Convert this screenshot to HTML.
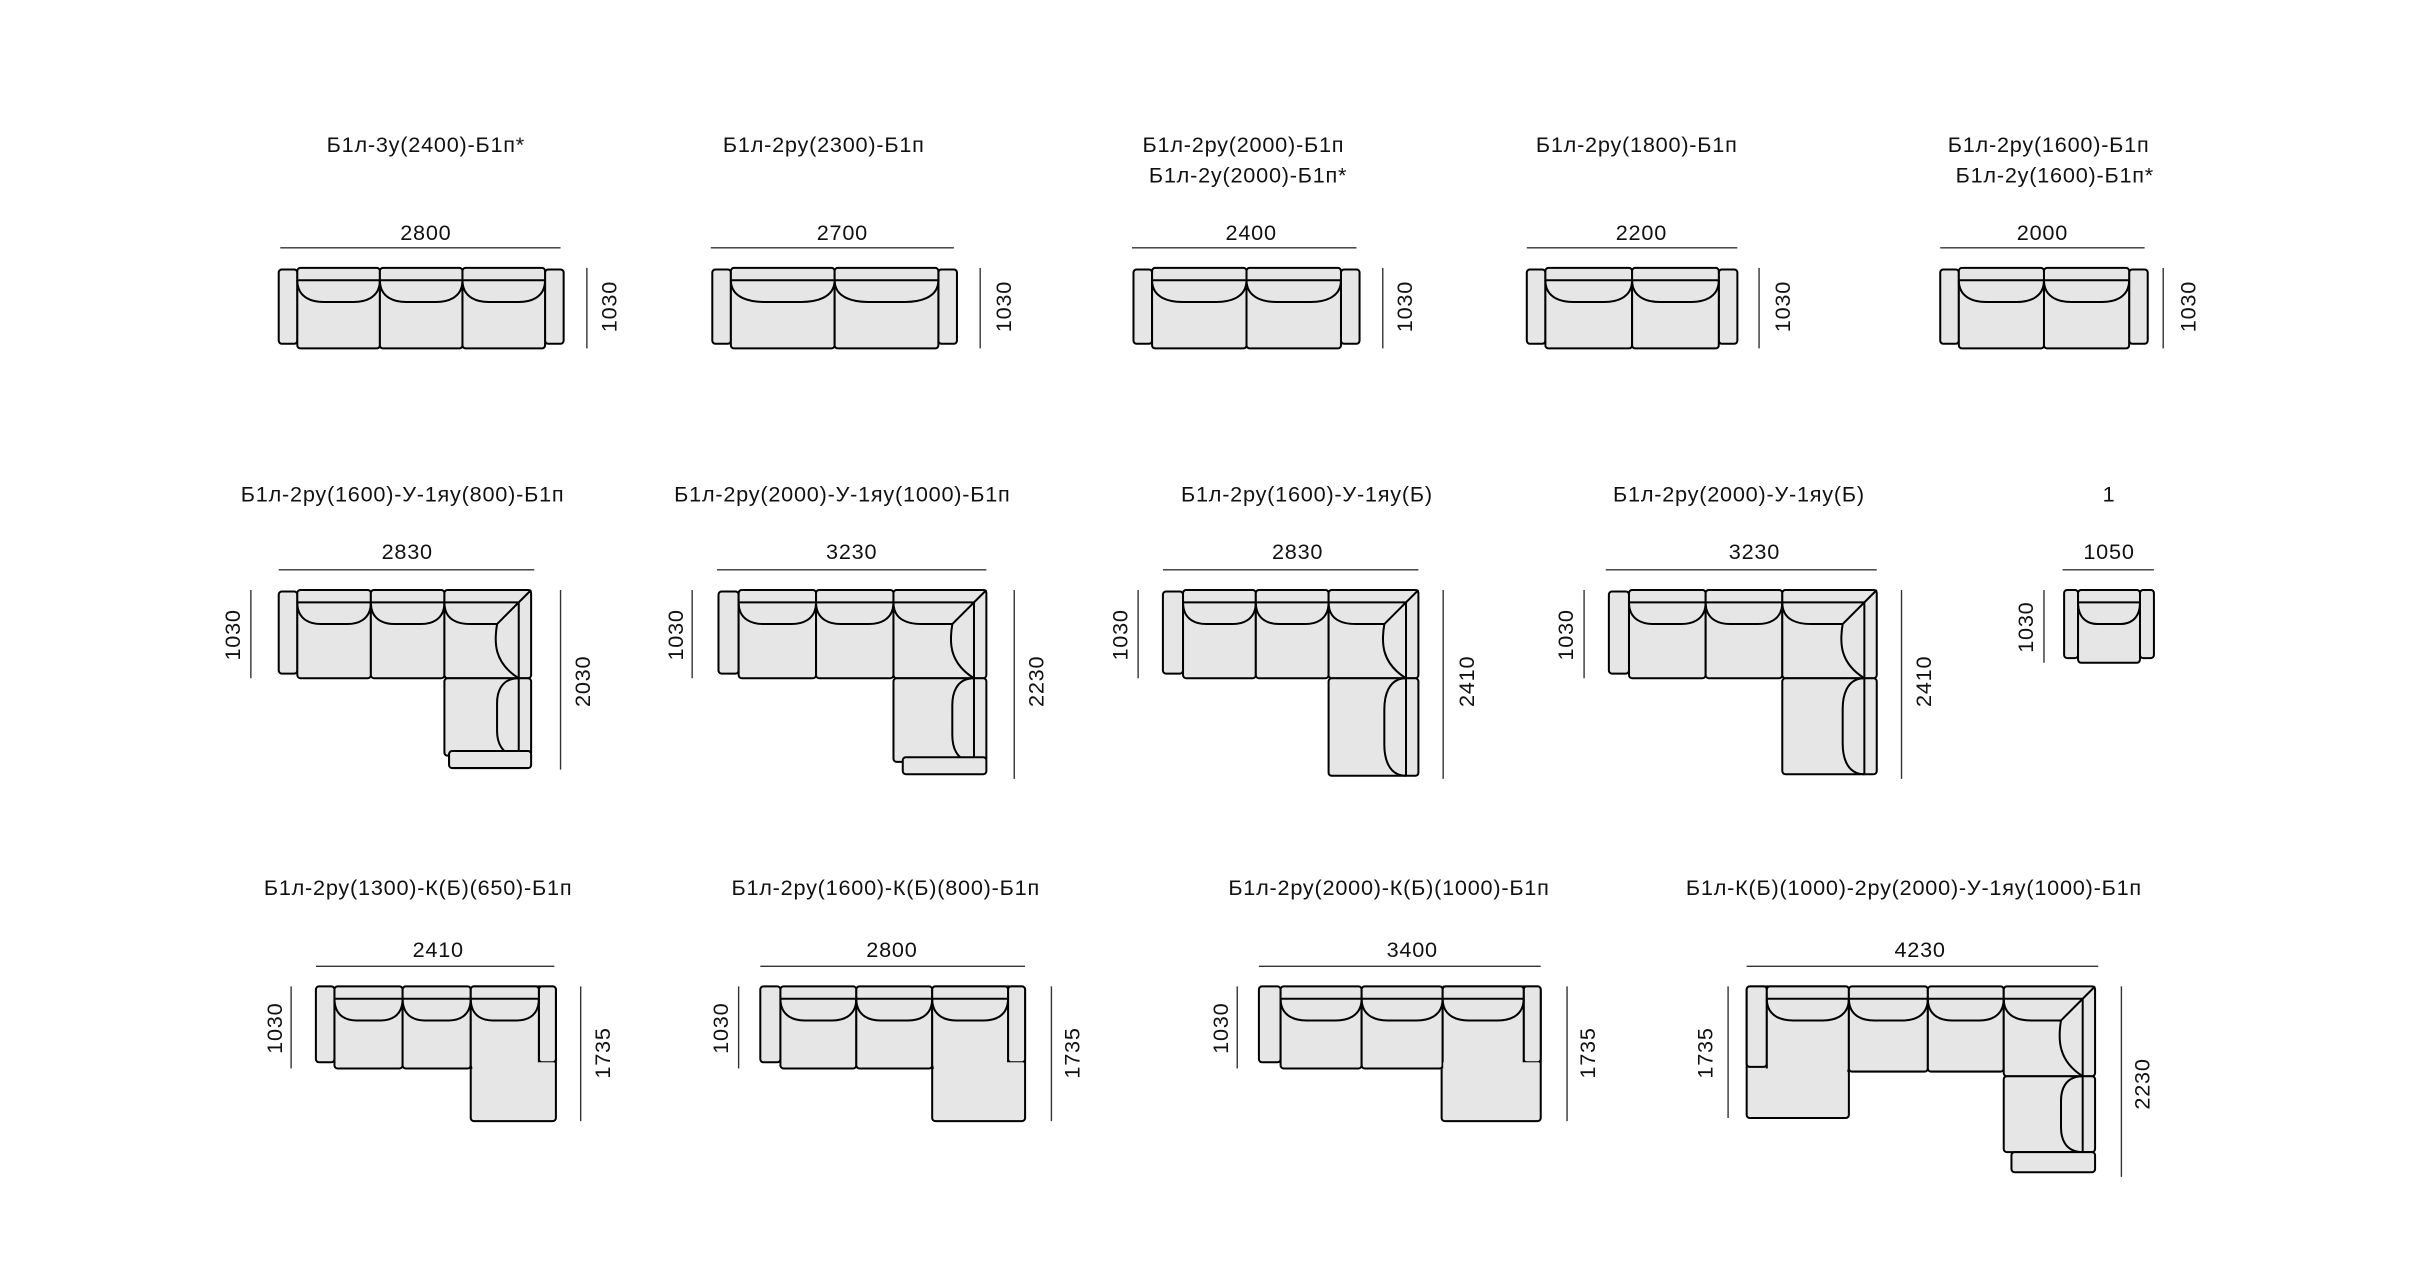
<!DOCTYPE html>
<html><head><meta charset="utf-8"><style>
html,body{margin:0;padding:0;background:#fff;width:2428px;height:1280px;overflow:hidden}
svg{display:block}
text{font-family:"Liberation Sans",sans-serif;font-size:14px;letter-spacing:0.5px;fill:#111}
</style></head><body>
<svg id="s" width="2428" height="1280" viewBox="0 0 1568 826.6" xmlns="http://www.w3.org/2000/svg">
<g id="txt" text-anchor="middle">
<text x="275" y="98">Б1л-3у(2400)-Б1п*</text>
<text x="532" y="98">Б1л-2ру(2300)-Б1п</text>
<text x="803" y="98">Б1л-2ру(2000)-Б1п</text>
<text x="806" y="118">Б1л-2у(2000)-Б1п*</text>
<text x="1057" y="98">Б1л-2ру(1800)-Б1п</text>
<text x="1323" y="98">Б1л-2ру(1600)-Б1п</text>
<text x="1327" y="118">Б1л-2у(1600)-Б1п*</text>
<text x="260" y="324">Б1л-2ру(1600)-У-1яу(800)-Б1п</text>
<text x="544" y="324">Б1л-2ру(2000)-У-1яу(1000)-Б1п</text>
<text x="844" y="324">Б1л-2ру(1600)-У-1яу(Б)</text>
<text x="1123" y="324">Б1л-2ру(2000)-У-1яу(Б)</text>
<text x="1362" y="324">1</text>
<text x="270" y="578">Б1л-2ру(1300)-К(Б)(650)-Б1п</text>
<text x="572" y="578">Б1л-2ру(1600)-К(Б)(800)-Б1п</text>
<text x="897" y="578">Б1л-2ру(2000)-К(Б)(1000)-Б1п</text>
<text x="1236" y="578">Б1л-К(Б)(1000)-2ру(2000)-У-1яу(1000)-Б1п</text>
<text x="275" y="155">2800</text><text x="544" y="155">2700</text><text x="808" y="155">2400</text><text x="1060" y="155">2200</text><text x="1319" y="155">2000</text>
<text x="263" y="361">2830</text><text x="550" y="361">3230</text><text x="838" y="361">2830</text><text x="1133" y="361">3230</text><text x="1362" y="361">1050</text>
<text x="283" y="618">2410</text><text x="576" y="618">2800</text><text x="912" y="618">3400</text><text x="1240" y="618">4230</text>
</g>
<g id="g" fill="#e6e6e6" stroke="#000" stroke-width="1.3" stroke-linejoin="round"></g>
<g id="d" stroke="#333" stroke-width="0.9"></g>
<g id="vt" text-anchor="middle">
<text transform="translate(398,198) rotate(-90)">1030</text>
<text transform="translate(653,198) rotate(-90)">1030</text>
<text transform="translate(912,198) rotate(-90)">1030</text>
<text transform="translate(1156,198) rotate(-90)">1030</text>
<text transform="translate(1418,198) rotate(-90)">1030</text>
<text transform="translate(155,410) rotate(-90)">1030</text>
<text transform="translate(381,440) rotate(-90)">2030</text>
<text transform="translate(441,410) rotate(-90)">1030</text>
<text transform="translate(674,440) rotate(-90)">2230</text>
<text transform="translate(728,410) rotate(-90)">1030</text>
<text transform="translate(952,440) rotate(-90)">2410</text>
<text transform="translate(1016,410) rotate(-90)">1030</text>
<text transform="translate(1247,440) rotate(-90)">2410</text>
<text transform="translate(1313,405) rotate(-90)">1030</text>
<text transform="translate(182,664) rotate(-90)">1030</text>
<text transform="translate(394,680) rotate(-90)">1735</text>
<text transform="translate(470,664) rotate(-90)">1030</text>
<text transform="translate(697,680) rotate(-90)">1735</text>
<text transform="translate(793,664) rotate(-90)">1030</text>
<text transform="translate(1030,680) rotate(-90)">1735</text>
<text transform="translate(1106,680) rotate(-90)">1735</text>
<text transform="translate(1388,700) rotate(-90)">2230</text>
</g>
</svg>
<script>
var g=document.getElementById('g'),d=document.getElementById('d'),o='',l='';
function R(a,b,c,e){o+='<rect x="'+a+'" y="'+b+'" width="'+(c-a)+'" height="'+(e-b)+'" rx="2"/>';}
function F(a,b,c,e){o+='<rect x="'+a+'" y="'+b+'" width="'+(c-a)+'" height="'+(e-b)+'" stroke="none"/>';}
function P(p,f){o+='<path d="'+p+'" fill="'+(f||'none')+'"/>';}
function seatH(a,b,c,e){R(a,b,c,e);var yb=b+8,w=c-a;P('M'+a+' '+yb+'H'+c);
 P('M'+a+' '+yb+'C'+a+' '+(yb+12)+' '+(a+w*.2)+' '+(yb+14)+' '+(a+w*.32)+' '+(yb+14)+'L'+(c-w*.32)+' '+(yb+14)+'C'+(c-w*.2)+' '+(yb+14)+' '+c+' '+(yb+12)+' '+c+' '+yb);}
function seatV(a,b,c,e){R(a,b,c,e);var xb=c-8,h=e-b;P('M'+xb+' '+b+'V'+e);
 P('M'+xb+' '+b+'C'+(xb-12)+' '+b+' '+(xb-14)+' '+(b+h*.2)+' '+(xb-14)+' '+(b+h*.32)+'L'+(xb-14)+' '+(e-h*.32)+'C'+(xb-14)+' '+(e-h*.2)+' '+(xb-12)+' '+e+' '+xb+' '+e);}
function corner(a,b,c,e){R(a,b,c,e);var yb=b+8,xb=c-8;P('M'+a+' '+yb+'H'+xb+'V'+e);P('M'+c+' '+b+'L'+(xb-14)+' '+(yb+14));
 var w=xb-a;P('M'+a+' '+yb+'C'+a+' '+(yb+12)+' '+(a+w*.2)+' '+(yb+14)+' '+(a+w*.35)+' '+(yb+14)+'L'+(xb-14)+' '+(yb+14)+'C'+(xb-16)+' '+(yb+26)+' '+(xb-16)+' '+(e-10)+' '+xb+' '+e);}
function H(a,b,y){l+='<line x1="'+a+'" x2="'+b+'" y1="'+y+'" y2="'+y+'"/>';}
function V(x,a,b){l+='<line x1="'+x+'" x2="'+x+'" y1="'+a+'" y2="'+b+'"/>';}
function straight(a1,s1,s2,a2,n){R(a1,174,s1,222);R(s2,174,a2,222);var w=(s2-s1)/n;for(var i=0;i<n;i++)seatH(s1+i*w,173,s1+(i+1)*w,225);}
straight(180,192,352,364,3);H(181,362,160);V(379,173,225);
straight(460,472,606,618,2);H(459,616,160);V(633,173,225);
straight(732,744,866,878,2);H(731,876,160);V(893,173,225);
straight(986,998,1110,1122,2);H(986,1122,160);V(1136,173,225);
straight(1253,1265,1375,1387,2);H(1253,1385,160);V(1397,173,225);
function L(a,s,xs,c,y2,bot){R(a,382,s,435);var w=(xs-s)/2;seatH(s,381,s+w,438);seatH(s+w,381,xs,438);corner(xs,381,c,438);seatV(xs,438,c,y2);if(bot)R(bot,y2-3,c,y2+8);}
L(180,192,287,343,488,290);H(180,345,368);V(162,381,438);V(362,381,497);
L(464,477,577,637,492,583);H(463,637,368);V(447,381,438);V(655,381,503);
L(751,764,858,916,501,0);H(751,916,368);V(735,381,438);V(932,381,503);
L(1039,1052,1151,1212,500,0);H(1037,1212,368);V(1023,381,438);V(1228,381,503);
R(1333,381,1342,425);R(1382,381,1391,425);seatH(1342,381,1382,428);H(1332,1391,368);V(1320,381,428);
function K(a,s,n,c,ca){R(a,637,s,686);R(c,637,ca,724);R(ca-11,637,ca,686);var e=ca-11,w=(e-s)/n;for(var i=0;i<n;i++)seatH(s+i*w,637,s+(i+1)*w,690);F(c+1,686,ca-1,694);}
K(204,216,3,304,359);H(204,358,624);V(188,637,690);V(375,637,724);
K(491,504,3,602,662);H(491,662,624);V(477,637,690);V(679,637,724);
K(813,827,3,931,995);H(813,995,624);V(799,637,690);V(1012,637,724);
R(1128,637,1194,722);R(1128,637,1141,689);seatH(1141,637,1194,692);seatH(1194,637,1245,692);seatH(1245,637,1294,692);F(1129,690,1193,696);corner(1294,637,1353,695);seatV(1294,695,1353,744);R(1299,744,1353,757);
H(1128,1355,624);V(1116,637,722);V(1370,637,760);
g.innerHTML=o;d.innerHTML=l;
</script>
</body></html>
